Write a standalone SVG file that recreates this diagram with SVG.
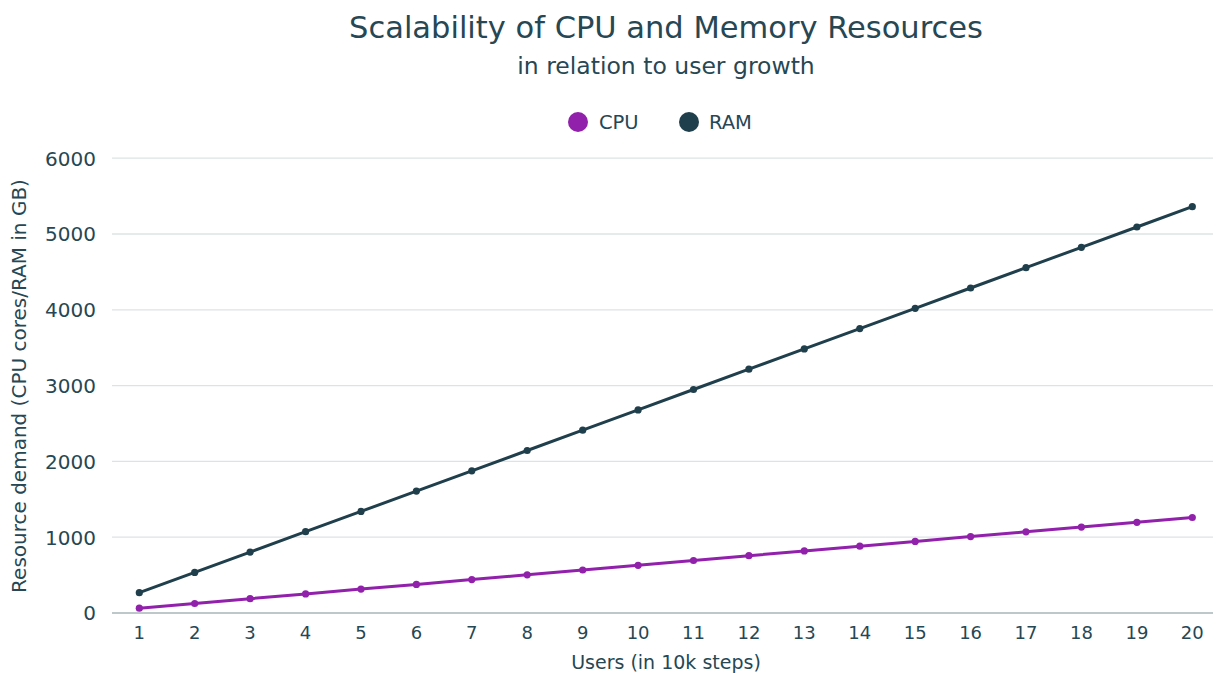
<svg xmlns="http://www.w3.org/2000/svg" width="1216" height="673" viewBox="0 0 1216 673">
<style>
text{font-family:"DejaVu Sans","Liberation Sans",sans-serif;fill:#264753}
.title{font-size:30.5px;text-anchor:middle}
.sub{font-size:23.5px;text-anchor:middle}
.leg{font-size:19.5px}
.yl{font-size:20px;text-anchor:end}
.xl{font-size:18px;text-anchor:middle}
.at{font-size:19px;text-anchor:middle}
.aty{font-size:20px;text-anchor:middle}
.grid{stroke:#dde3e5;stroke-width:1.3}
.axis{stroke:#a9b6ba;stroke-width:1.6}
.ram{fill:none;stroke:#203f4c;stroke-width:3;stroke-linejoin:round}
.cpu{fill:none;stroke:#9121ab;stroke-width:3;stroke-linejoin:round}
.ramd{fill:#203f4c}
.cpud{fill:#9121ab}
</style>
<rect width="1216" height="673" fill="#ffffff"/>
<g id="title">
<text class="title" x="666" y="38">Scalability of CPU and Memory Resources</text>
<text class="sub" x="666" y="74">in relation to user growth</text>
</g>
<g id="legend">
<circle cx="578" cy="122" r="10" fill="#9121ab"/>
<text class="leg" x="599" y="129">CPU</text>
<circle cx="689" cy="122" r="10" fill="#203f4c"/>
<text class="leg" x="709" y="129">RAM</text>
</g>
<g id="grid">
<line class="grid" x1="112" y1="537.2" x2="1213" y2="537.2"/>
<line class="grid" x1="112" y1="461.4" x2="1213" y2="461.4"/>
<line class="grid" x1="112" y1="385.6" x2="1213" y2="385.6"/>
<line class="grid" x1="112" y1="309.8" x2="1213" y2="309.8"/>
<line class="grid" x1="112" y1="234" x2="1213" y2="234"/>
<line class="grid" x1="112" y1="158.2" x2="1213" y2="158.2"/>
<line class="axis" x1="112" y1="613" x2="1213" y2="613"/>
</g>
<g id="y-axis">
<text class="yl" x="96" y="620">0</text>
<text class="yl" x="96" y="544.5">1000</text>
<text class="yl" x="96" y="468.7">2000</text>
<text class="yl" x="96" y="392.9">3000</text>
<text class="yl" x="96" y="317.1">4000</text>
<text class="yl" x="96" y="241.3">5000</text>
<text class="yl" x="96" y="165.5">6000</text>
<text class="aty" transform="translate(26,386) rotate(-90)">Resource demand (CPU cores/RAM in GB)</text>
</g>
<g id="x-axis">
<text class="xl" x="139.3" y="639">1</text>
<text class="xl" x="194.7" y="639">2</text>
<text class="xl" x="250.1" y="639">3</text>
<text class="xl" x="305.6" y="639">4</text>
<text class="xl" x="361.0" y="639">5</text>
<text class="xl" x="416.4" y="639">6</text>
<text class="xl" x="471.8" y="639">7</text>
<text class="xl" x="527.2" y="639">8</text>
<text class="xl" x="582.7" y="639">9</text>
<text class="xl" x="638.1" y="639">10</text>
<text class="xl" x="693.5" y="639">11</text>
<text class="xl" x="748.9" y="639">12</text>
<text class="xl" x="804.3" y="639">13</text>
<text class="xl" x="859.8" y="639">14</text>
<text class="xl" x="915.2" y="639">15</text>
<text class="xl" x="970.6" y="639">16</text>
<text class="xl" x="1026.0" y="639">17</text>
<text class="xl" x="1081.4" y="639">18</text>
<text class="xl" x="1136.9" y="639">19</text>
<text class="xl" x="1192.3" y="639">20</text>
<text class="at" x="666" y="669">Users (in 10k steps)</text>
</g>
<g id="series-ram">
<polyline class="ram" points="139.3,592.7 194.7,572.4 250.1,552.1 305.6,531.7 361.0,511.4 416.4,491.1 471.8,470.8 527.2,450.5 582.7,430.2 638.1,409.9 693.5,389.5 748.9,369.2 804.3,348.9 859.8,328.6 915.2,308.3 970.6,288.0 1026.0,267.7 1081.4,247.3 1136.9,227.0 1192.3,206.7"/>
<g class="ramd">
<circle cx="139.3" cy="592.7" r="3.6"/><circle cx="194.7" cy="572.4" r="3.6"/><circle cx="250.1" cy="552.1" r="3.6"/><circle cx="305.6" cy="531.7" r="3.6"/><circle cx="361.0" cy="511.4" r="3.6"/><circle cx="416.4" cy="491.1" r="3.6"/><circle cx="471.8" cy="470.8" r="3.6"/><circle cx="527.2" cy="450.5" r="3.6"/><circle cx="582.7" cy="430.2" r="3.6"/><circle cx="638.1" cy="409.9" r="3.6"/><circle cx="693.5" cy="389.5" r="3.6"/><circle cx="748.9" cy="369.2" r="3.6"/><circle cx="804.3" cy="348.9" r="3.6"/><circle cx="859.8" cy="328.6" r="3.6"/><circle cx="915.2" cy="308.3" r="3.6"/><circle cx="970.6" cy="288.0" r="3.6"/><circle cx="1026.0" cy="267.7" r="3.6"/><circle cx="1081.4" cy="247.3" r="3.6"/><circle cx="1136.9" cy="227.0" r="3.6"/><circle cx="1192.3" cy="206.7" r="3.6"/>
</g>
</g>
<g id="series-cpu">
<polyline class="cpu" points="139.3,608.2 194.7,603.5 250.1,598.7 305.6,593.9 361.0,589.1 416.4,584.4 471.8,579.6 527.2,574.8 582.7,570.0 638.1,565.3 693.5,560.5 748.9,555.7 804.3,550.9 859.8,546.2 915.2,541.4 970.6,536.6 1026.0,531.8 1081.4,527.1 1136.9,522.3 1192.3,517.5"/>
<g class="cpud">
<circle cx="139.3" cy="608.2" r="3.6"/><circle cx="194.7" cy="603.5" r="3.6"/><circle cx="250.1" cy="598.7" r="3.6"/><circle cx="305.6" cy="593.9" r="3.6"/><circle cx="361.0" cy="589.1" r="3.6"/><circle cx="416.4" cy="584.4" r="3.6"/><circle cx="471.8" cy="579.6" r="3.6"/><circle cx="527.2" cy="574.8" r="3.6"/><circle cx="582.7" cy="570.0" r="3.6"/><circle cx="638.1" cy="565.3" r="3.6"/><circle cx="693.5" cy="560.5" r="3.6"/><circle cx="748.9" cy="555.7" r="3.6"/><circle cx="804.3" cy="550.9" r="3.6"/><circle cx="859.8" cy="546.2" r="3.6"/><circle cx="915.2" cy="541.4" r="3.6"/><circle cx="970.6" cy="536.6" r="3.6"/><circle cx="1026.0" cy="531.8" r="3.6"/><circle cx="1081.4" cy="527.1" r="3.6"/><circle cx="1136.9" cy="522.3" r="3.6"/><circle cx="1192.3" cy="517.5" r="3.6"/>
</g>
</g>
</svg>
